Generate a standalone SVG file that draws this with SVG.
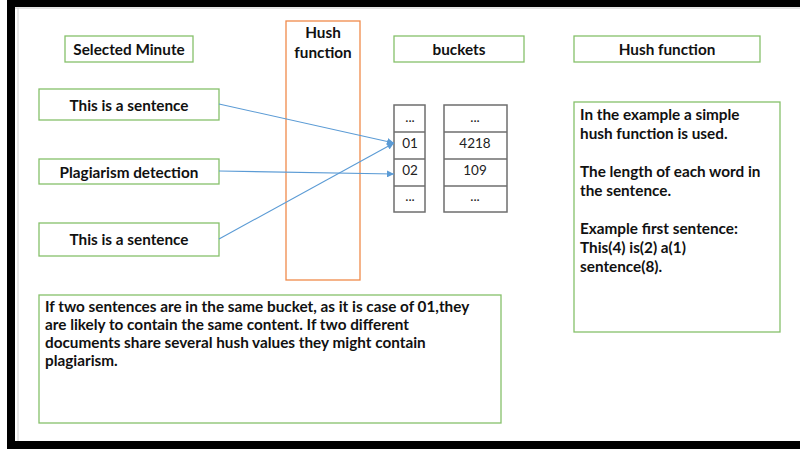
<svg xmlns="http://www.w3.org/2000/svg" width="800" height="450" viewBox="0 0 800 450">
<defs>
<style>
.g{fill:#fff;stroke:#86C06A;stroke-width:1.3}
.t{font-family:Lato,"Liberation Sans",sans-serif;font-weight:bold;font-size:15.3px;fill:#111}
.c{text-anchor:middle}
.n{font-family:Lato,"Liberation Sans",sans-serif;font-size:13.5px;fill:#222;text-anchor:middle}
.b{fill:#fff;stroke:#6e6e6e;stroke-width:1.5}
.e{stroke:#5B9BD5;stroke-width:1.1;fill:none;marker-end:url(#ah)}
</style>
<marker id="ah" viewBox="0 0 10 10" refX="10" refY="5" markerWidth="7" markerHeight="7" markerUnits="userSpaceOnUse" orient="auto">
<path d="M0,0 L10,5 L0,10 z" fill="#5B9BD5"/>
</marker>
</defs>
<rect width="800" height="450" fill="#fff"/>
<g id="frame">
<rect x="7" y="0" width="793" height="7" fill="#000"/>
<rect x="7" y="0" width="8" height="449" fill="#000"/>
<rect x="7" y="441" width="793" height="8" fill="#000"/>
<line x1="18" y1="8" x2="18" y2="441" stroke="#d0d0d0" stroke-width="1"/>
<line x1="15" y1="8" x2="800" y2="8" stroke="#c8c8c8" stroke-width="1"/>
</g>
<g id="hush-column">
<rect x="286" y="21" width="74" height="259" fill="none" stroke="#F08A4B" stroke-width="1.3"/>
<text class="t c" x="323" y="38">Hush</text>
<text class="t c" x="323" y="58">function</text>
</g>
<g id="selected-minute">
<rect class="g" x="65" y="36" width="128" height="26"/>
<text class="t c" x="129" y="55">Selected Minute</text>
</g>
<g id="buckets-title">
<rect class="g" x="394" y="36" width="130" height="26"/>
<text class="t c" x="459" y="55">buckets</text>
</g>
<g id="hush-title">
<rect class="g" x="574" y="36" width="186" height="26"/>
<text class="t c" x="667" y="55">Hush function</text>
</g>
<g id="sentence1">
<rect class="g" x="39" y="89" width="180" height="31"/>
<text class="t c" x="129" y="111">This is a sentence</text>
</g>
<g id="plagiarism">
<rect class="g" x="39" y="159" width="180" height="25"/>
<text class="t c" x="129" y="178">Plagiarism detection</text>
</g>
<g id="sentence2">
<rect class="g" x="39" y="223" width="180" height="33"/>
<text class="t c" x="129" y="245">This is a sentence</text>
</g>
<g id="bucket-keys">
<rect class="b" x="394" y="105" width="31" height="107"/>
<line x1="394" y1="132" x2="425" y2="132" stroke="#6e6e6e" stroke-width="1.5"/>
<line x1="394" y1="159" x2="425" y2="159" stroke="#6e6e6e" stroke-width="1.5"/>
<line x1="394" y1="186" x2="425" y2="186" stroke="#6e6e6e" stroke-width="1.5"/>
<text class="n" x="410" y="122">...</text>
<text class="n" x="410" y="148">01</text>
<text class="n" x="410" y="175">02</text>
<text class="n" x="410" y="201">...</text>
</g>
<g id="bucket-values">
<rect class="b" x="444" y="105" width="63" height="107"/>
<line x1="444" y1="132" x2="507" y2="132" stroke="#6e6e6e" stroke-width="1.5"/>
<line x1="444" y1="159" x2="507" y2="159" stroke="#6e6e6e" stroke-width="1.5"/>
<line x1="444" y1="186" x2="507" y2="186" stroke="#6e6e6e" stroke-width="1.5"/>
<text class="n" x="475" y="122">...</text>
<text class="n" x="475" y="148">4218</text>
<text class="n" x="475" y="175">109</text>
<text class="n" x="475" y="201">...</text>
</g>
<g id="explanation">
<rect class="g" x="574" y="102" width="206" height="230"/>
<text class="t" x="580" y="120">In the example a simple</text>
<text class="t" x="580" y="139">hush function is used.</text>
<text class="t" x="580" y="177">The length of each word in</text>
<text class="t" x="580" y="196">the sentence.</text>
<text class="t" x="580" y="234">Example first sentence:</text>
<text class="t" x="580" y="253">This(4) is(2) a(1)</text>
<text class="t" x="580" y="272">sentence(8).</text>
</g>
<g id="conclusion">
<rect class="g" x="39" y="295" width="462" height="128"/>
<text class="t" x="45" y="312">If two sentences are in the same bucket, as it is case of 01,they</text>
<text class="t" x="45" y="330">are likely to contain the same content. If two different</text>
<text class="t" x="45" y="348">documents share several hush values they might contain</text>
<text class="t" x="45" y="366">plagiarism.</text>
</g>
<g id="connectors">
<line class="e" x1="219" y1="104" x2="394" y2="143"/>
<line class="e" x1="219" y1="171" x2="394" y2="174"/>
<line class="e" x1="219" y1="239" x2="394" y2="143"/>
</g>
</svg>
